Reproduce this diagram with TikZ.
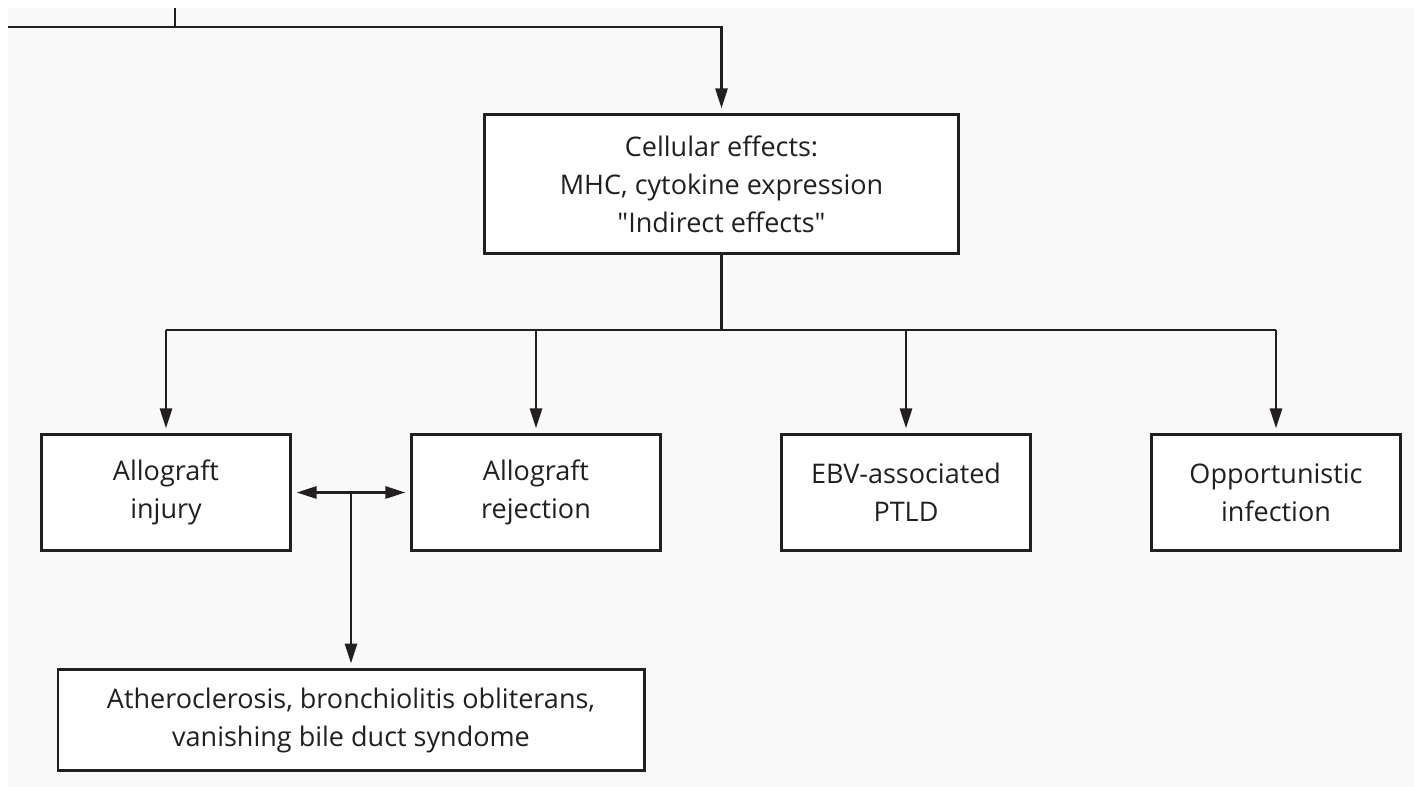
\documentclass[tikz,border=0pt]{standalone}
\usepackage{fontspec}
\setmainfont{Open Sans}[Ligatures=TeXOff]
\usetikzlibrary{arrows.meta, positioning, calc}
\definecolor{flowink}{HTML}{231F20}
\definecolor{panelgray}{HTML}{F9F9F9}

\begin{document}
\begin{tikzpicture}[
      x=0.5pt, y=-0.5pt,
      box/.style={draw=flowink, fill=white, line width=1.4pt, outer sep=0pt,
        minimum width=124.6pt, minimum height=58.1pt, align=center,
        text=flowink, font=\fontsize{13.5}{19}\selectfont},
      link/.style={draw=flowink, line width=1.4pt},
      >={Triangle[length=10pt, width=6pt]}
    ]
      % page with grey panel
      \useasboundingbox (0,0) rectangle (1414,787);
      \fill[white] (0,0) rectangle (1414,787);
      \fill[panelgray] (8,8) rectangle (1414,787);

      \node[box, minimum width=237.1pt, minimum height=69.6pt] (cellular)
        at (721.5,184) {Cellular effects:\\MHC, cytokine expression\\"Indirect effects"};
      \node[box] (injury) at (166,492.5) {Allograft\\injury};
      \node[box, right=60.4pt of injury] (rejection) {Allograft\\rejection};
      \node[box, right=60.4pt of rejection] (ebv) {EBV-associated\\PTLD};
      \node[box, right=60.4pt of ebv] (opportunistic) {Opportunistic\\infection};

      \coordinate (fork) at ($(injury.east)!0.5!(rejection.west)$);
      \node[box, minimum width=293.1pt, minimum height=50.6pt,
        below=88.5pt of fork] (sequelae)
        {Atheroclerosis, bronchiolitis obliterans,\\vanishing bile duct syndome};

      % feed from above
      \coordinate (feedleft) at (8,27);
      \coordinate (stub) at (175,8);
      \draw[link] (stub) -- (stub |- feedleft);
      \draw[link, ->, shorten >=3pt] (feedleft) -| (cellular.north);

      % branches
      \coordinate (split) at (721.5,330);
      \draw[link] (cellular.south) -- (split);
      \draw[link] (injury.north |- split) -- (opportunistic.north |- split);
      \draw[link, ->, shorten >=3pt] (injury.north |- split) -- (injury.north);
      \draw[link, ->, shorten >=3pt] (rejection.north |- split) -- (rejection.north);
      \draw[link, ->, shorten >=3pt] (ebv.north |- split) -- (ebv.north);
      \draw[link, ->, shorten >=3pt] (opportunistic.north |- split)
        -- (opportunistic.north);

      \draw[link, <->, shorten <=3pt, shorten >=3pt] (injury) -- (rejection);
      \draw[link, ->, shorten >=3pt] (fork) -- (sequelae);
    \end{tikzpicture}
\end{document}
